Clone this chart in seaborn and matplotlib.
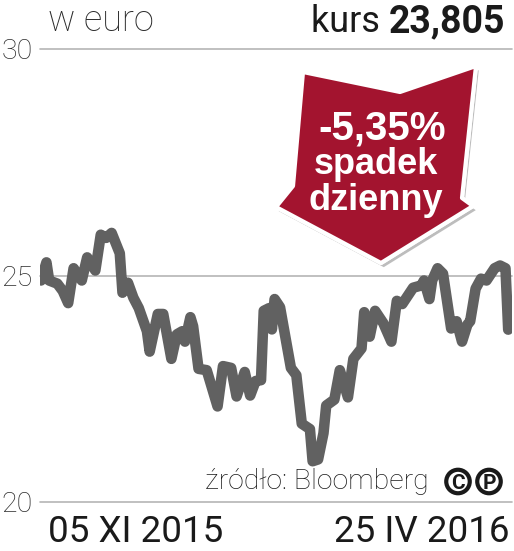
import numpy as np
import pandas as pd
import seaborn as sns
import matplotlib.pyplot as plt
import matplotlib.patheffects as pe
from matplotlib.patches import Polygon, Ellipse

# values (EUR, daily close)
START = "2015-11-05"
DAY_OFFSET = [0, 2, 3, 6, 8, 10, 12, 15, 17, 20,
              22, 24, 26, 29, 30, 32, 34, 36, 39, 40,
              43, 45, 48, 50, 52, 53, 55, 56, 58, 61,
              65, 67, 70, 72, 75, 77, 79, 81, 82, 84,
              85, 86, 88, 92, 94, 96, 99, 100, 102, 104,
              105, 108, 110, 113, 115, 118, 119, 121, 123, 126,
              129, 131, 133, 135, 137, 140, 141, 143, 144, 146,
              148, 151, 153, 155, 157, 158, 160, 162, 164, 167,
              169, 171, 172]
PRICE = [24.89, 25.29, 24.89, 24.82, 24.66, 24.39, 25.16, 24.89, 25.40, 25.11,
         25.90, 25.83, 25.94, 25.49, 24.62, 24.84, 24.51, 24.28, 23.77, 23.32,
         24.15, 24.15, 23.16, 23.70, 23.77, 23.54, 24.08, 23.88, 22.94, 22.91,
         22.11, 23.00, 22.96, 22.33, 22.87, 22.35, 22.67, 22.69, 24.22, 24.28,
         23.81, 24.48, 24.30, 22.96, 22.80, 21.73, 21.61, 20.90, 20.94, 21.52,
         22.13, 22.26, 22.91, 22.31, 23.16, 23.39, 24.19, 23.65, 24.22, 23.95,
         23.54, 24.44, 24.37, 24.55, 24.73, 24.78, 24.89, 24.48, 24.89, 25.16,
         25.04, 23.83, 23.99, 23.54, 23.92, 23.99, 24.71, 24.93, 24.89, 25.16,
         25.22, 25.16, 23.805]
Y_TICKS = [20, 25, 30]
X_LABELS = ["05 XI 2015", "25 IV 2016"]
UNIT = "w euro"
LAST = "23,805"
CHANGE = "-5,35%"
CHANGE_TEXT = ["spadek", "dzienny"]
SOURCE = "źródło: Bloomberg"

df = pd.DataFrame({"date": pd.Timestamp(START) + pd.to_timedelta(DAY_OFFSET, unit="D"),
                   "price": PRICE})

sns.set_style("white")
plt.rcParams["font.family"] = ["Roboto", "DejaVu Sans"]

W, H = 514, 551
fig = plt.figure(figsize=(W / 100, H / 100), dpi=100)
ax = fig.add_axes([40 / W, 49 / H, 472 / W, 453 / H])


def fx(px):
    return px / W


def fy(py):
    return 1 - py / H


sns.lineplot(data=df, x="date", y="price", ax=ax, color="#616161", linewidth=7.6,
             solid_joinstyle="round", solid_capstyle="round", zorder=3)

d0 = df["date"].iloc[0]
d1 = df["date"].iloc[-1]
ax.set_xlim(d0 - pd.Timedelta(days=0.37), d1 + pd.Timedelta(days=1.4))
ax.set_ylim(20, 30)
ax.set_yticks(Y_TICKS)
ax.set_yticklabels([str(t) for t in Y_TICKS], fontsize=20.5, fontweight="light", color="#2a2a2a")
ax.set_xticks([d0 + pd.Timedelta(days=2.4), d1 + pd.Timedelta(days=0.6)])
ax.set_xticklabels(X_LABELS, fontsize=26.5, color="#1a1a1a")
xl = ax.get_xticklabels()
xl[0].set_ha("left")
xl[1].set_ha("right")
ax.tick_params(axis="y", length=0, pad=5)
ax.tick_params(axis="x", length=0, pad=9)
ax.set_xlabel("")
ax.set_ylabel("")
ax.grid(False)
for y in Y_TICKS:
    ax.axhline(y, color="#b5b5b5", linewidth=1.2, zorder=1, clip_on=False)
sns.despine(ax=ax, left=True, bottom=True)

# header
fig.text(fx(48), fy(31), UNIT, fontsize=26, fontweight="light", color="#2a2a2a", ha="left", va="baseline")
fig.text(fx(505), fy(32), LAST, fontsize=27, fontweight="bold", color="#1a1a1a", ha="right", va="baseline")
fig.text(fx(505 - 116), fy(32), "kurs ", fontsize=26, color="#1a1a1a", ha="right", va="baseline")

# red arrow
pts = [(303, 72), (400, 92), (476, 66), (462, 198), (473, 206), (381, 263), (276, 207), (293, 186)]
arrow = Polygon([(fx(x), fy(y)) for x, y in pts], closed=True, transform=fig.transFigure,
                facecolor="#a3142f", edgecolor="white", linewidth=3, joinstyle="round", zorder=5)
arrow.set_path_effects([pe.withSimplePatchShadow(offset=(2, -3), shadow_rgbFace="#888888", alpha=0.55),
                        pe.Normal()])
fig.patches.append(arrow)
arrow_font = ["Liberation Sans", "DejaVu Sans"]
fig.text(fx(382), fy(140), CHANGE, fontsize=29, fontweight="bold", color="white",
         ha="center", va="baseline", family=arrow_font, zorder=6)
fig.text(fx(376), fy(174), CHANGE_TEXT[0], fontsize=26, fontweight="bold", color="white",
         ha="center", va="baseline", family=arrow_font, zorder=6)
fig.text(fx(376), fy(210), CHANGE_TEXT[1], fontsize=26, fontweight="bold", color="white",
         ha="center", va="baseline", family=arrow_font, zorder=6)

# source
fig.text(fx(429), fy(489), SOURCE, fontsize=20.5, fontweight="light", color="#1a1a1a", ha="right", va="baseline")
for cx, ch in [(458, "C"), (489, "P")]:
    fig.patches.append(Ellipse((fx(cx), fy(481.5)), 23.5 / W, 23.5 / H, transform=fig.transFigure,
                               facecolor="white", edgecolor="#1a1a1a", linewidth=3, zorder=6))
    fig.text(fx(cx), fy(481.5), ch, fontsize=15, fontweight="bold", color="#1a1a1a",
             ha="center", va="center_baseline", zorder=7)

fig.savefig("out.png", dpi=100)
